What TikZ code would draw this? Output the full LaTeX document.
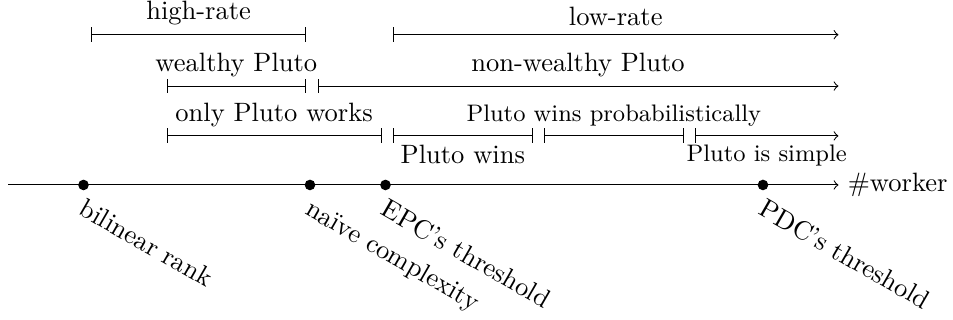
\documentclass[tikz,border=0pt]{standalone}
\usepackage{amsmath}
\usepackage{tikz}
\usetikzlibrary{arrows, positioning}

\tikzset{
  span/.style={|-|},
  openspan/.style={|->},
  dotmark/.style={circle, fill=black, inner sep=0pt, minimum size=4pt},
  slant/.style={rotate=-30, anchor=north west},
}

\begin{document}
\begin{tikzpicture}

\useasboundingbox ( -0.106, -1.788 ) rectangle ( 12.517, 2.45 );

% Axis
\coordinate (start) at ( 0, 0 );
\coordinate (end) at ( 11, 0 );
\draw [->] (start) -- (end) node [right] (axis) {\#worker};

% Marks on the axis
\node [dotmark] (rank) at ( 1, 0 ) {};
\node [dotmark] (naive) at ( 4, 0 ) {};
\node [dotmark] (epc) at ( 5, 0 ) {};
\node [dotmark] (pdc) at ( 10, 0 ) {};

% Mark labels
\node [slant] (ranklabel) at (rank) {bilinear rank};
\node [slant] (naivelabel) at (naive) {na\"{\i}ve complexity};
\node [slant] (epclabel) at (epc) {EPC's threshold};
\node [slant] (pdclabel) at (pdc) {PDC's threshold};

% Rate
\coordinate (hr-a) at ( 1.1, 1.99 );
\coordinate (hr-b) at ( 3.95, 1.99 );
\coordinate (lr-a) at ( 5.1, 1.99 );
\coordinate (lr-b) at ( 11, 1.99 );
\draw [span] (hr-a) -- node [above] (hrlabel) {high-rate} (hr-b);
\draw [openspan] (lr-a) -- node [above] (lrlabel) {low-rate} (lr-b);

% Wealth
\coordinate (wp-a) at ( 2.1, 1.31 );
\coordinate (wp-b) at ( 3.95, 1.31 );
\coordinate (nw-a) at ( 4.1, 1.31 );
\coordinate (nw-b) at ( 11, 1.31 );
\draw [span] (wp-a) -- node [above] (wplabel) {wealthy Pluto} (wp-b);
\draw [openspan] (nw-a) -- node [above] (nwlabel) {non-wealthy Pluto} (nw-b);

% Who wins
\coordinate (ow-a) at ( 2.1, 0.65 );
\coordinate (ow-b) at ( 4.95, 0.65 );
\coordinate (pw-a) at ( 5.1, 0.65 );
\coordinate (pw-b) at ( 6.95, 0.65 );
\coordinate (pp-a) at ( 7.1, 0.65 );
\coordinate (pp-b) at ( 8.95, 0.65 );
\coordinate (ps-a) at ( 9.1, 0.65 );
\coordinate (ps-b) at ( 11, 0.65 );
\draw [span] (ow-a) -- node [above] (owlabel) {only Pluto works} (ow-b);
\draw [span] (pw-a) -- node [below] (pwlabel) {Pluto wins} (pw-b);
\draw [span] (pp-a) -- node [above] (pplabel) {\small Pluto wins probabilistically} (pp-b);
\draw [openspan] (ps-a) -- node [below] (pslabel) {\small Pluto is simple} (ps-b);

\end{tikzpicture}
\end{document}
